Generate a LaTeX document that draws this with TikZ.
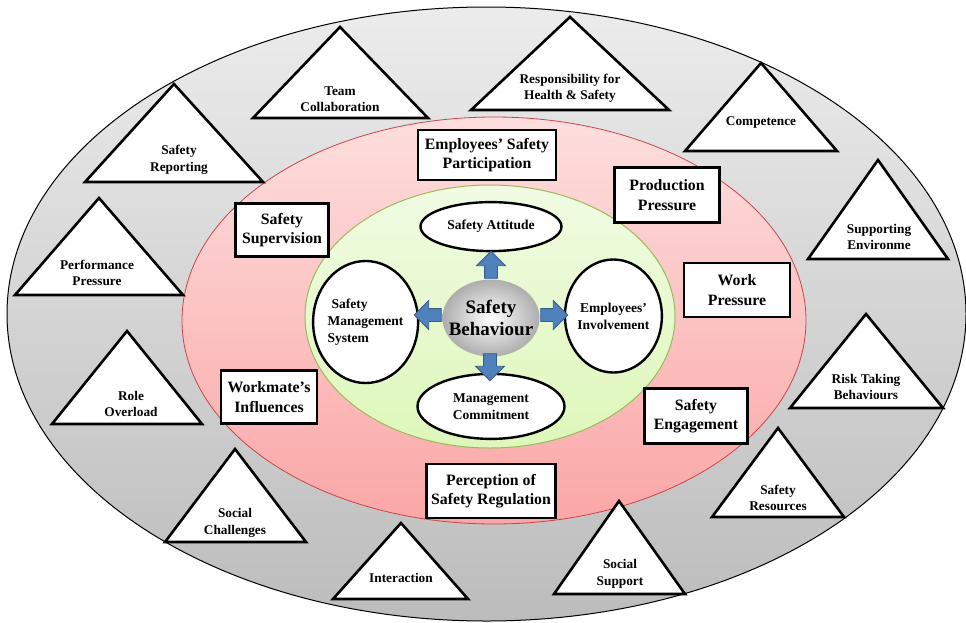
\documentclass[tikz,border=0pt]{standalone}
\usepackage{fontspec}
\setmainfont{Liberation Serif}
\usepackage{tikz}
\usetikzlibrary{shapes, shapes.arrows, positioning}
\definecolor{ringtop}{RGB}{236, 236, 236}
\definecolor{ringbot}{RGB}{188, 188, 188}
\definecolor{pinktop}{RGB}{253, 222, 222}
\definecolor{pinkbot}{RGB}{251, 166, 166}
\definecolor{pinkedge}{RGB}{200, 70, 70}
\definecolor{greentop}{RGB}{240, 251, 226}
\definecolor{greenbot}{RGB}{222, 247, 186}
\definecolor{greenedge}{RGB}{155, 187, 89}
\definecolor{arrowblue}{RGB}{79, 129, 189}
\definecolor{arrowedge}{RGB}{56, 93, 138}
\tikzset{
    ringnode/.style = {draw, ellipse, inner sep = 0em, node distance=0em},
    ellipsenode/.style = {draw, ellipse, fill=white, line width=2.4pt, inner sep = 0em, inner xsep=-4pt,
      font=\fontsize{13.5}{17}\selectfont\bfseries},
    boxnode/.style = {draw, rectangle, fill=white, line width=2.6pt, inner sep = 0em,
      font=\fontsize{15.8}{19.5}\selectfont\bfseries},
    trinode/.style = {draw, fill=white, line width=2.6pt, line join=miter},
    textnode/.style = {draw=none, fill=none, rectangle, inner sep = 0em,
      font=\fontsize{13.3}{16.5}\selectfont\bfseries},
    arrownode/.style = {single arrow, draw=arrowedge, fill=arrowblue, line width=0.8pt,
      inner sep=0em, minimum height=27pt, single arrow head extend=8pt,
      single arrow head indent=0pt},
    every text node part/.style={align=center}
}

\begin{document}
\begin{tikzpicture}[x=1pt, y=-1pt]
\useasboundingbox (0,0) rectangle (966,622);

% rings
\node [ringnode, name=outer, top color=ringtop, bottom color=ringbot, line width=1pt,
  minimum width=959pt, minimum height=614pt] at (486.5,314) {};
\node [ringnode, name=middle, top color=pinktop, bottom color=pinkbot, draw=pinkedge, line width=0.8pt,
  minimum width=624pt, minimum height=407pt] at (494,320.5) {};
\node [ringnode, name=inner, top color=greentop, bottom color=greenbot, draw=greenedge, line width=1pt,
  minimum width=370pt, minimum height=263pt] at (490,316.5) {};

% outer triangles
\draw [trinode] (340,27) -- (428,118) -- (253,118) -- cycle;
\node [textnode, name=team] at (340,99) {Team\\Collaboration};
\draw [trinode] (174,84) -- (263,182) -- (85,182) -- cycle;
\node [textnode, name=report] at (179,160) {Safety\\Reporting};
\draw [trinode] (99,198) -- (183,295) -- (15,295) -- cycle;
\node [textnode, name=perf] at (97,273) {Performance\\Pressure};
\draw [trinode] (570,17) -- (669,110) -- (471,110) -- cycle;
\node [textnode, name=resp] at (570,88) {Responsibility for\\Health \& Safety};
\draw [trinode] (761,63) -- (837,151) -- (685,151) -- cycle;
\node [textnode, name=comp] at (761,123) {Competence};
\draw [trinode] (878,160) -- (948,259) -- (808,259) -- cycle;
\node [textnode, name=env] at (879,237) {Supporting\\Environme};
\draw [trinode] (127,331) -- (202,424) -- (52,424) -- cycle;
\node [textnode, name=role] at (131,404) {Role\\Overload};
\draw [trinode] (235,449) -- (306,542) -- (165,542) -- cycle;
\node [textnode, name=chall] at (235,523) {Social\\Challenges};
\draw [trinode] (401,523) -- (468,599) -- (333,599) -- cycle;
\node [textnode, name=inter] at (401,578) {Interaction};
\draw [trinode] (866,314) -- (943,408) -- (790,408) -- cycle;
\node [textnode, name=risk] at (866,387) {Risk Taking\\Behaviours};
\draw [trinode] (778,428) -- (844,517) -- (712,517) -- cycle;
\node [textnode, name=res] at (778,498) {Safety\\Resources};
\draw [trinode] (619,501) -- (685,594) -- (554,594) -- cycle;
\node [textnode, name=supp] at (620,574) {Social\\Support};

% boxes in the pink ring
\node [boxnode, name=part, minimum width=138pt, minimum height=50pt] at (487,155) {Employees’ Safety\\Participation};
\node [boxnode, name=sup, minimum width=93pt, minimum height=53pt] at (282,230) {Safety\\Supervision};
\node [boxnode, name=prod, minimum width=105pt, minimum height=55pt] at (667,195) {Production\\Pressure};
\node [boxnode, name=work, minimum width=106pt, minimum height=54pt] at (737,290) {Work\\Pressure};
\node [boxnode, name=mate, minimum width=96pt, minimum height=53pt] at (269,397) {Workmate’s\\Influences};
\node [boxnode, name=eng, minimum width=103pt, minimum height=55pt] at (696,416) {Safety\\Engagement};
\node [boxnode, name=perc, minimum width=129pt, minimum height=54pt] at (491,491) {Perception of\\Safety Regulation};

% centre
\node [ringnode, name=beh, draw=none, inner color=white, outer color=black!32, inner xsep=-8pt,
  minimum width=97pt, minimum height=77pt, font=\fontsize{19}{22}\selectfont\bfseries] at (491,318) {Safety\\Behaviour};
\node [ellipsenode, name=att, above=27pt of beh, minimum width=141pt, minimum height=49pt] {Safety Attitude};
\node [ellipsenode, name=com, below=16pt of beh, minimum width=147pt, minimum height=65pt] {Management\\Commitment};
\node [ellipsenode, name=sms, left=23pt of beh, yshift=-4pt, minimum width=105pt, minimum height=122pt,
  every text node part/.style={align=left}] {\hspace{4pt}Safety\\Management\\System};
\node [ellipsenode, name=inv, right=24pt of beh, yshift=2pt, minimum width=97pt, minimum height=113pt] {Employees’\\Involvement};

\node [arrownode, name=aup, rotate=90] at (491,268) {\rule{0pt}{12pt}};
\node [arrownode, name=adown, rotate=-90] at (490,364) {\rule{0pt}{12pt}};
\node [arrownode, name=aleft, rotate=180] at (431,315) {\rule{0pt}{12pt}};
\node [arrownode, name=aright] at (551,315) {\rule{0pt}{12pt}};
\end{tikzpicture}
\end{document}
